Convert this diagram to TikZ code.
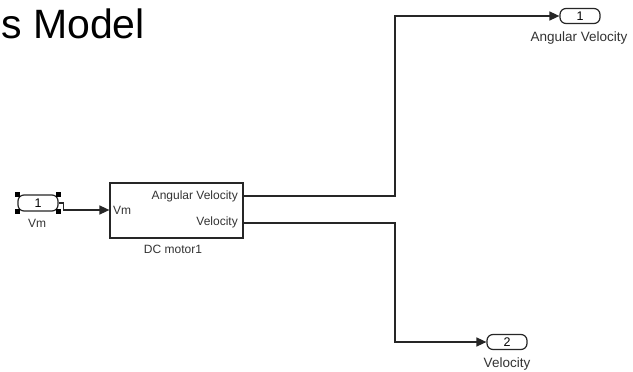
\documentclass[tikz,border=0pt]{standalone}
\usepackage{fontspec}
\setmainfont{Liberation Sans}
\usetikzlibrary{arrows.meta,calc}
\begin{document}
\begin{tikzpicture}[x=1pt,y=-1pt,
  wire/.style={line width=1.4pt,draw=black!85},
  arr/.style={wire,-{Triangle[length=10pt,width=9pt]}},
  port/.style={draw=black!85,line width=1.2pt,rounded corners=6pt,minimum width=40pt,minimum height=15pt,inner sep=0pt,font=\fontsize{12.5}{12.5}\selectfont},
  blk/.style={draw=black!85,line width=1.2pt,minimum width=133pt,minimum height=55pt,inner sep=0pt},
  lbl/.style={font=\fontsize{12}{12}\selectfont,text=black!80,inner sep=0pt},
  olbl/.style={font=\fontsize{13.5}{13.5}\selectfont,text=black!80,inner sep=0pt},
  handle/.style={fill=black,minimum size=5pt,inner sep=0pt}]
\useasboundingbox[fill=white] (0,0) rectangle (633,372);
% title
\node[anchor=base west,inner sep=0pt,font=\fontsize{41}{41}\selectfont] (title) at (1,38) {s Model};
% inport
\node[port,minimum height=16pt] (in1) at (38,203) {1};
\node[lbl] (in1l) at (37,223) {Vm};
\node[handle] (h1) at (in1.north west) {};
\node[handle] (h2) at (in1.north east) {};
\node[handle] (h3) at (in1.south west) {};
\node[handle] (h4) at (in1.south east) {};
% block
\node[blk] (dc) at (176.5,210.5) {};
\node[lbl,anchor=west] (vm) at (113,210) {Vm};
\node[lbl,anchor=east] (av) at (238,196) {Angular Velocity};
\node[lbl,anchor=east] (ve) at (238,222.5) {Velocity};
\node[lbl] (dcl) at (173,249) {DC motor1};
\coordinate (pin) at (dc.west |- 0,210);
\coordinate (p1) at (dc.east |- 0,196);
\coordinate (p2) at (dc.east |- 0,223);
% outports
\node[port] (out1) at (580,16) {1};
\node[olbl] (out1l) at (579,38) {Angular Velocity};
\node[port] (out2) at (507,342) {2};
\node[olbl] (out2l) at (507,364) {Velocity};
% connectors
\draw[arr] (in1.east) -- ++(5,0) |- (pin);
\draw[arr] (p1) -| (395,16) -- (out1.west);
\draw[arr] (p2) -| (395,342) -- (out2.west);
\end{tikzpicture}
\end{document}
